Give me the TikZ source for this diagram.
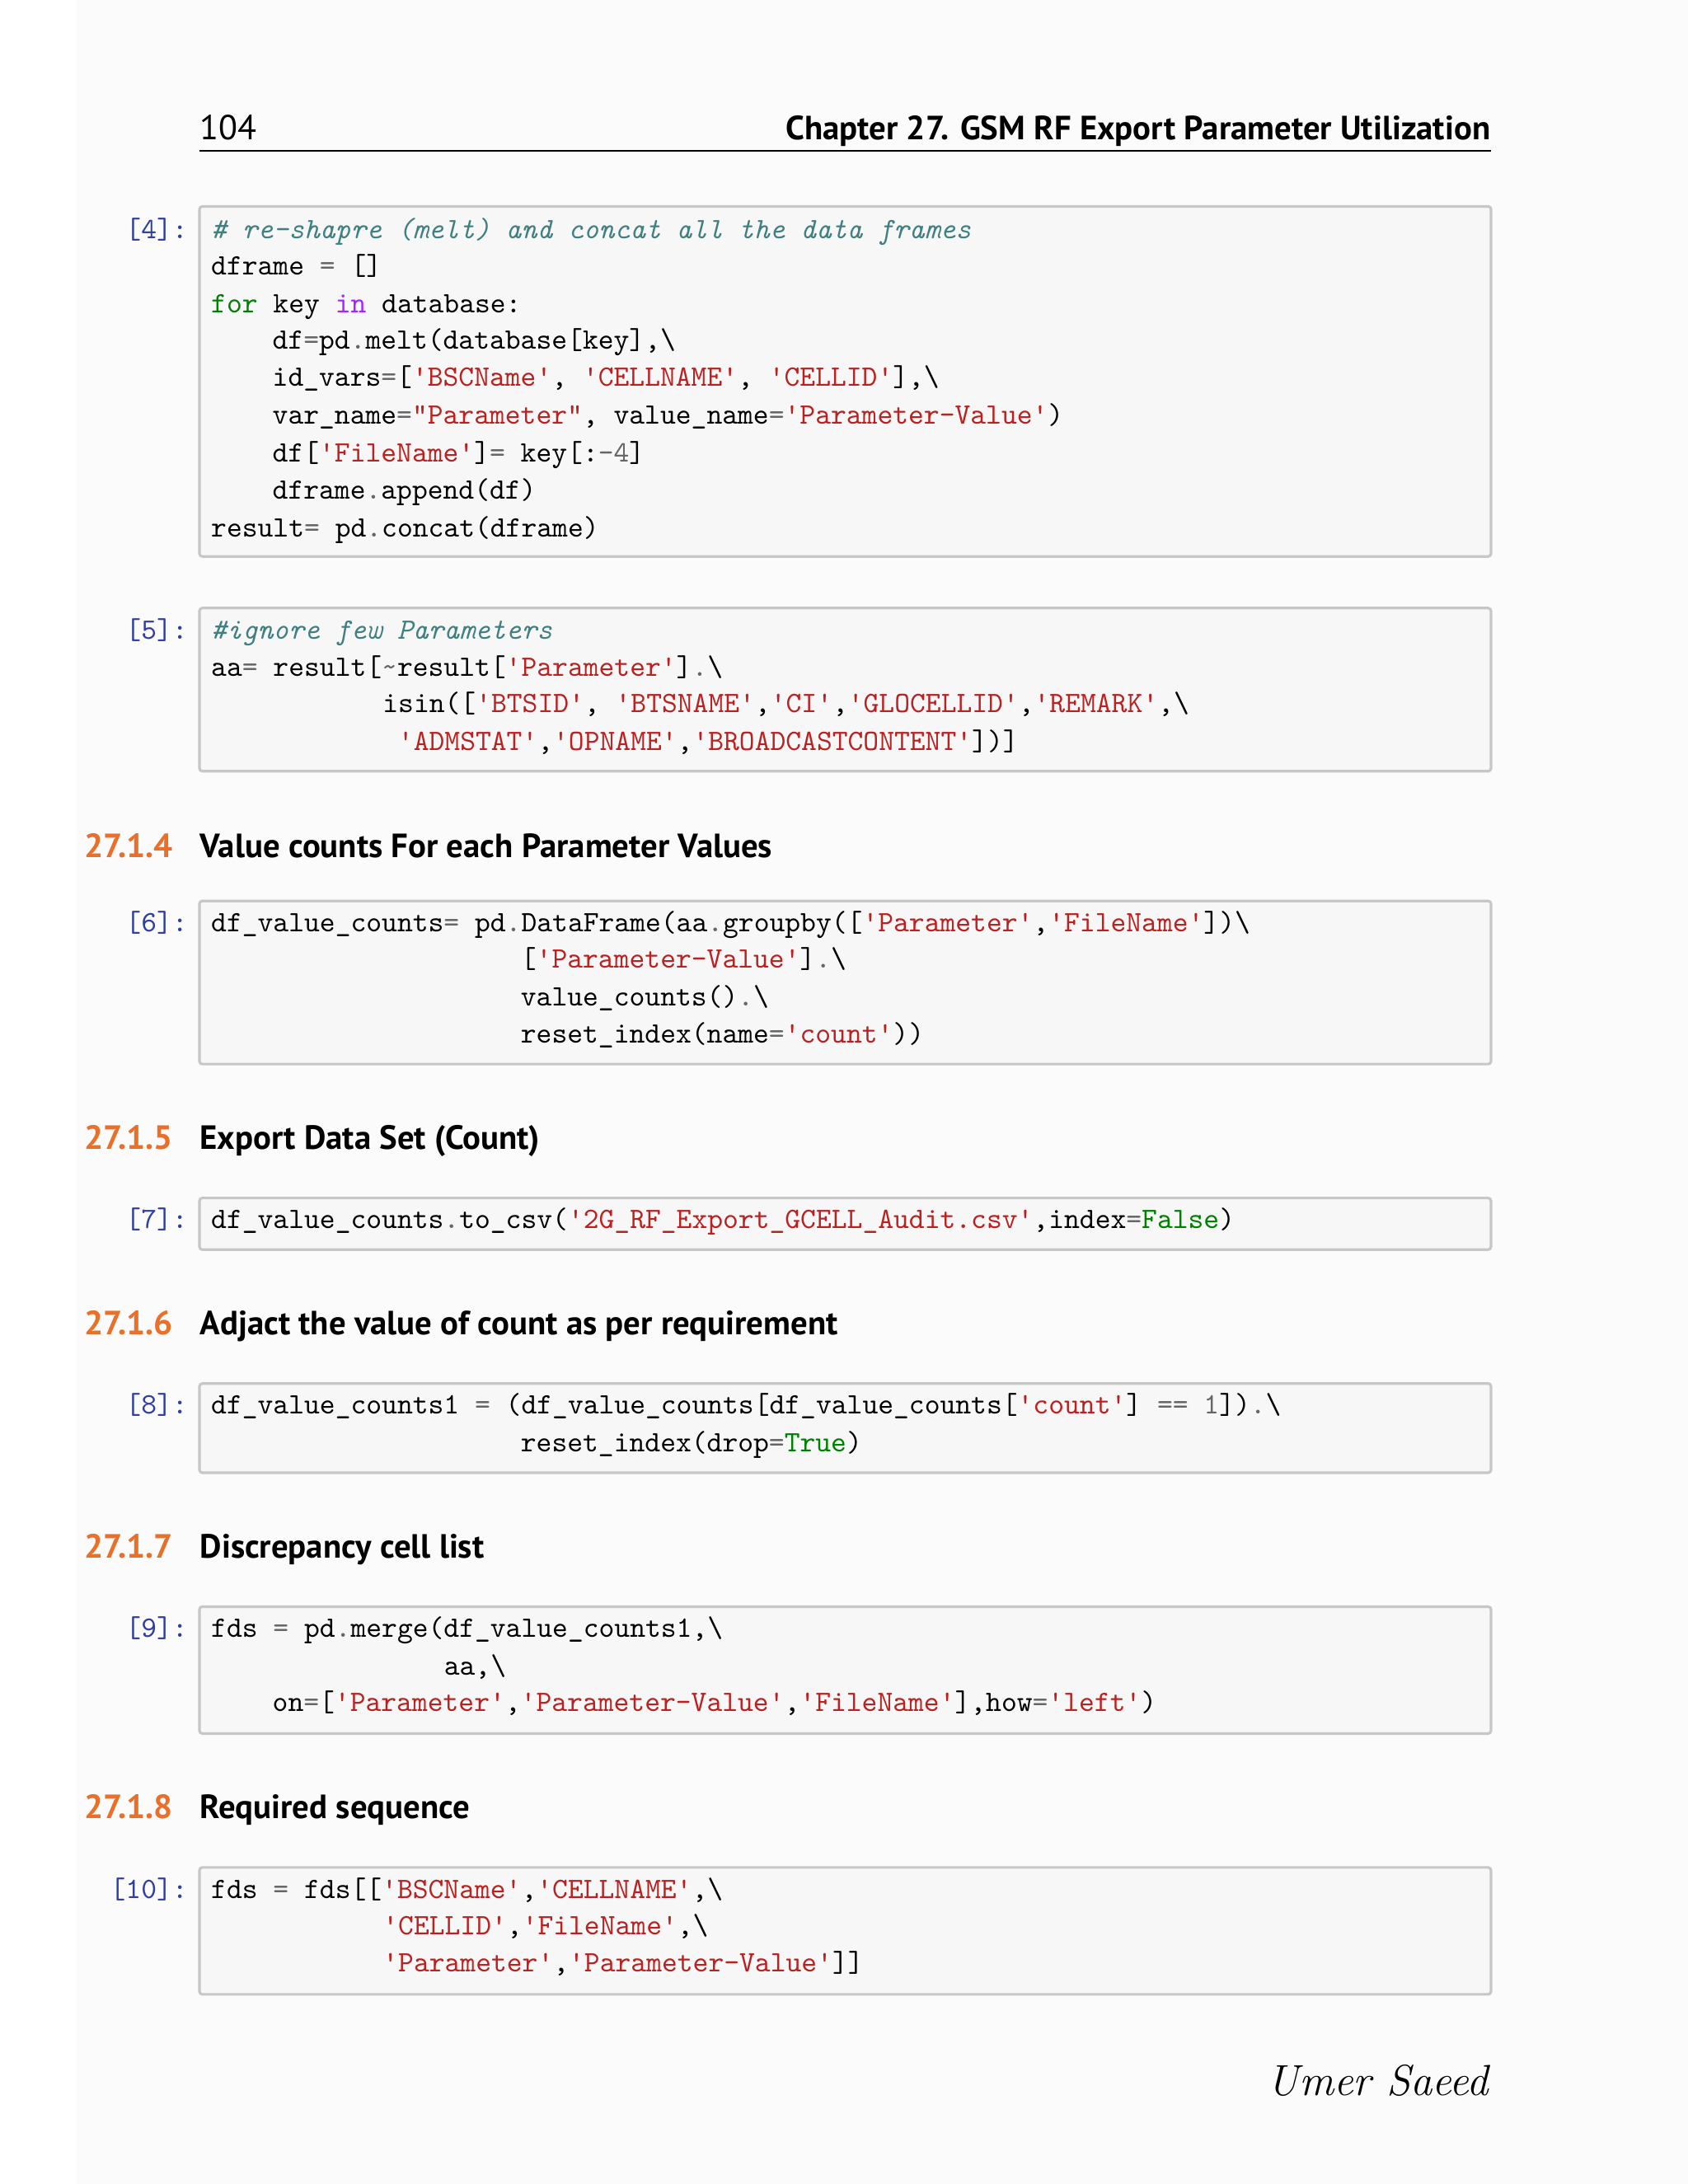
\documentclass[tikz,border=0pt]{standalone}
\usepackage{fontspec}
\setsansfont{PT Sans}
\definecolor{strc}{HTML}{BA2121}
\definecolor{kwc}{HTML}{008000}
\definecolor{cmc}{HTML}{408080}
\definecolor{opc}{HTML}{666666}
\definecolor{inc}{HTML}{AA22FF}
\definecolor{prc}{HTML}{303F9F}
\definecolor{secc}{HTML}{E8702A}
\newcommand\sq{\textquotesingle}
\newcommand\dq{\textquotedbl}
\newcommand\bs{\textbackslash}
\newcommand\str[1]{\textcolor{strc}{#1}}
\newcommand\kw[1]{\textcolor{kwc}{#1}}
\newcommand\cm[1]{\textcolor{cmc}{\itshape #1}}
\newcommand\op[1]{\textcolor{opc}{#1}}
\newcommand\inop[1]{\textcolor{inc}{#1}}
\begin{document}
\begin{tikzpicture}[x=0.16926mm,y=-0.16926mm,
  code/.style={anchor=base west,inner sep=0pt,font=\ttfamily\fontsize{10.2}{12}\selectfont},
  prompt/.style={anchor=base east,inner sep=0pt,text=prc,font=\ttfamily\fontsize{10.2}{12}\selectfont},
  cbox/.style={draw=black!22,line width=0.9pt,fill=black!3,rounded corners=1pt},
  secnum/.style={anchor=base west,inner sep=0pt,text=secc,font=\sffamily\bfseries\fontsize{11.6}{14}\selectfont},
  sectitle/.style={anchor=base west,inner sep=0pt,font=\sffamily\bfseries\fontsize{11.6}{14}\selectfont}]
\fill[white] (0,0) rectangle (1210,1566);
\fill[black!1.5] (55,0) rectangle (1210,1566);
% header
\node[anchor=base west,inner sep=0pt,font=\sffamily\fontsize{12}{15}\selectfont] (pg) at (143,100) {104};
\node[anchor=base east,inner sep=0pt,font=\sffamily\bfseries\fontsize{11.6}{15}\selectfont] (ch) at (1069,100) {Chapter 27. GSM RF Export Parameter Utilization};
\draw[line width=0.5pt] (143,108) -- (1069,108);
% [4]
\draw[cbox] (143,148) rectangle (1069,399);
\node[prompt] (p4) at (135,171) {[4]:};
\node[code] (a1) at (151,171) {\cm{\# re-shapre (melt) and concat all the data frames}};
\node[code] (a2) at (151,197) {dframe \op{=} []};
\node[code] (a3) at (151,224) {\kw{for} key \inop{in} database:};
\node[code] (a4) at (195,250) {df\op{=}pd\op{.}melt(database[key],\bs};
\node[code] (a5) at (195,277) {id\_vars\op{=}[\str{\sq BSCName\sq}, \str{\sq CELLNAME\sq}, \str{\sq CELLID\sq}],\bs};
\node[code] (a6) at (195,304) {var\_name\op{=}\str{\dq Parameter\dq}, value\_name\op{=}\str{\sq Parameter-Value\sq})};
\node[code] (a7) at (195,331) {df[\str{\sq FileName\sq}]\op{=} key[:\op{-4}]};
\node[code] (a8) at (195,358) {dframe\op{.}append(df)};
\node[code] (a9) at (151,385) {result\op{=} pd\op{.}concat(dframe)};
% [5]
\draw[cbox] (143,436) rectangle (1069,553);
\node[prompt] (p5) at (135,458) {[5]:};
\node[code] (b1) at (151,458) {\cm{\#ignore few Parameters}};
\node[code] (b2) at (151,485) {aa\op{=} result[\op{\textasciitilde}result[\str{\sq Parameter\sq}]\op{.}\bs};
\node[code] (b3) at (274,511) {isin([\str{\sq BTSID\sq}, \str{\sq BTSNAME\sq},\str{\sq CI\sq},\str{\sq GLOCELLID\sq},\str{\sq REMARK\sq},\bs};
\node[code] (b4) at (285,538) {\str{\sq ADMSTAT\sq},\str{\sq OPNAME\sq},\str{\sq BROADCASTCONTENT\sq}])]};
% 27.1.4
\node[secnum] (s4) at (60,615) {27.1.4};
\node[sectitle] (t4) at (143,615) {Value counts For each Parameter Values};
% [6]
\draw[cbox] (143,646) rectangle (1069,763);
\node[prompt] (p6) at (135,668) {[6]:};
\node[code] (c1) at (151,668) {df\_value\_counts\op{=} pd\op{.}DataFrame(aa\op{.}groupby([\str{\sq Parameter\sq},\str{\sq FileName\sq}])\bs};
\node[code] (c2) at (373,694) {[\str{\sq Parameter-Value\sq}]\op{.}\bs};
\node[code] (c3) at (373,721) {value\_counts()\op{.}\bs};
\node[code] (c4) at (373,748) {reset\_index(name\op{=}\str{\sq count\sq}))};
% 27.1.5
\node[secnum] (s5) at (60,824) {27.1.5};
\node[sectitle] (t5) at (143,824) {Export Data Set (Count)};
% [7]
\draw[cbox] (143,859) rectangle (1069,896);
\node[prompt] (p7) at (135,881) {[7]:};
\node[code] (d1) at (151,881) {df\_value\_counts\op{.}to\_csv(\str{\sq 2G\_RF\_Export\_GCELL\_Audit.csv\sq},index\op{=}\kw{False})};
% 27.1.6
\node[secnum] (s6) at (60,957) {27.1.6};
\node[sectitle] (t6) at (143,957) {Adjact the value of count as per requirement};
% [8]
\draw[cbox] (143,992) rectangle (1069,1056);
\node[prompt] (p8) at (135,1014) {[8]:};
\node[code] (e1) at (151,1014) {df\_value\_counts1 \op{=} (df\_value\_counts[df\_value\_counts[\str{\sq count\sq}] \op{==} \op{1}])\op{.}\bs};
\node[code] (e2) at (373,1041) {reset\_index(drop\op{=}\kw{True})};
% 27.1.7
\node[secnum] (s7) at (60,1117) {27.1.7};
\node[sectitle] (t7) at (143,1117) {Discrepancy cell list};
% [9]
\draw[cbox] (143,1152) rectangle (1069,1243);
\node[prompt] (p9) at (135,1174) {[9]:};
\node[code] (f1) at (151,1174) {fds \op{=} pd\op{.}merge(df\_value\_counts1,\bs};
\node[code] (f2) at (318,1201) {aa,\bs};
\node[code] (f3) at (195,1227) {on\op{=}[\str{\sq Parameter\sq},\str{\sq Parameter-Value\sq},\str{\sq FileName\sq}],how\op{=}\str{\sq left\sq})};
% 27.1.8
\node[secnum] (s8) at (60,1304) {27.1.8};
\node[sectitle] (t8) at (143,1304) {Required sequence};
% [10]
\draw[cbox] (143,1339) rectangle (1069,1430);
\node[prompt] (p10) at (135,1361) {[10]:};
\node[code] (g1) at (151,1361) {fds \op{=} fds[[\str{\sq BSCName\sq},\str{\sq CELLNAME\sq},\bs};
\node[code] (g2) at (274,1387) {\str{\sq CELLID\sq},\str{\sq FileName\sq},\bs};
\node[code] (g3) at (274,1414) {\str{\sq Parameter\sq},\str{\sq Parameter-Value\sq}]]};
% signature
\node[anchor=center,inner sep=0pt,font=\itshape\fontsize{15}{18}\selectfont] (sig) at (988,1492) {Umer Saeed};
\end{tikzpicture}
\end{document}
